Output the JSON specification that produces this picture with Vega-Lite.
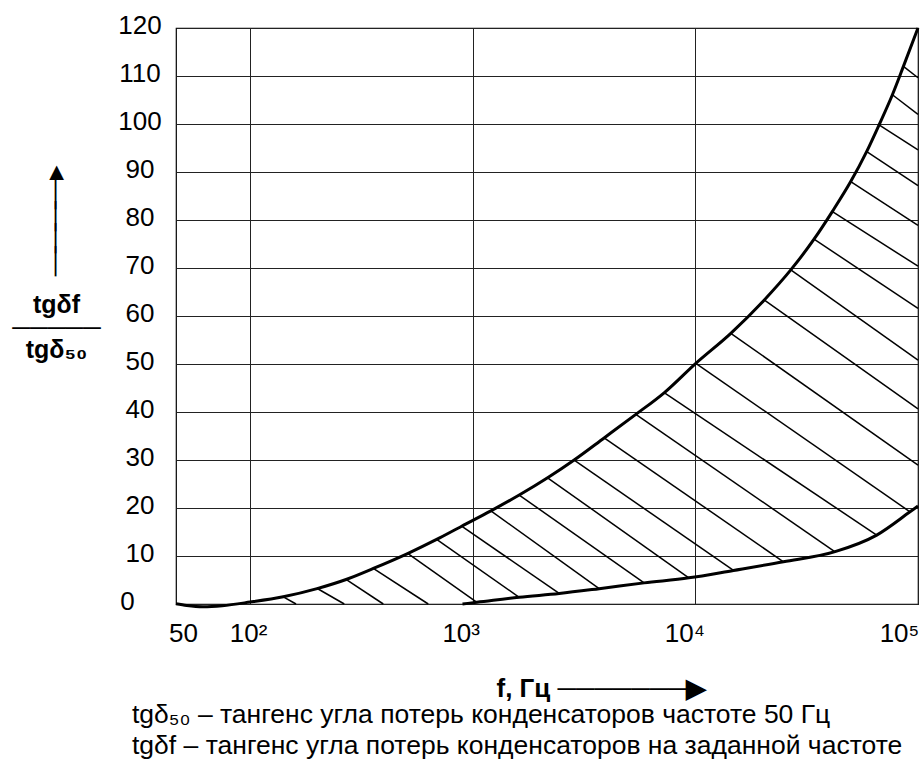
{
  "$schema": "https://vega.github.io/schema/vega-lite/v6.json",
  "width": 742,
  "height": 576,
  "autosize": {"type": "none"},
  "padding": {"left": 176, "top": 28, "right": 4, "bottom": 158},
  "background": "white",
  "config": {"view": {"stroke": "#000", "strokeWidth": 1.2}, "font": "Liberation Sans"},
  "title": {
    "text": ["tgδ₅₀ – тангенс угла потерь конденсаторов частоте 50 Гц", "tgδf – тангенс угла потерь конденсаторов на заданной частоте"],
    "orient": "bottom", "anchor": "start", "frame": "group", "dx": -44, "offset": 1,
    "fontSize": 26.5, "fontWeight": "normal", "font": "Liberation Sans", "color": "#000", "lineHeight": 31, "baseline": "top"
  },
  "datasets": {
    "curves": [
      {"curve": "upper", "f": 46.5, "v": 0.05}, {"curve": "upper", "f": 52, "v": -0.3}, {"curve": "upper", "f": 61.5, "v": -0.55},
      {"curve": "upper", "f": 75, "v": -0.35}, {"curve": "upper", "f": 100, "v": 0.4}, {"curve": "upper", "f": 141, "v": 1.5},
      {"curve": "upper", "f": 200, "v": 3.2}, {"curve": "upper", "f": 270, "v": 5.1}, {"curve": "upper", "f": 358, "v": 7.4},
      {"curve": "upper", "f": 510, "v": 10.5}, {"curve": "upper", "f": 689, "v": 13.45}, {"curve": "upper", "f": 892, "v": 16.2},
      {"curve": "upper", "f": 1207, "v": 19.4}, {"curve": "upper", "f": 1618, "v": 22.7}, {"curve": "upper", "f": 2170, "v": 26.3},
      {"curve": "upper", "f": 2856, "v": 30.0}, {"curve": "upper", "f": 3894, "v": 34.6}, {"curve": "upper", "f": 5404, "v": 39.5},
      {"curve": "upper", "f": 7241, "v": 44.0}, {"curve": "upper", "f": 10049, "v": 50.15}, {"curve": "upper", "f": 14430, "v": 56.4},
      {"curve": "upper", "f": 20360, "v": 63.3}, {"curve": "upper", "f": 26830, "v": 69.6}, {"curve": "upper", "f": 34130, "v": 76.0},
      {"curve": "upper", "f": 41280, "v": 81.8}, {"curve": "upper", "f": 49870, "v": 88.0}, {"curve": "upper", "f": 58860, "v": 94.3},
      {"curve": "upper", "f": 66830, "v": 99.8}, {"curve": "upper", "f": 76740, "v": 106.1}, {"curve": "upper", "f": 86000, "v": 112.0},
      {"curve": "upper", "f": 100000, "v": 120},
      {"curve": "lower", "f": 900, "v": 0}, {"curve": "lower", "f": 1045, "v": 0.35}, {"curve": "lower", "f": 1618, "v": 1.4},
      {"curve": "lower", "f": 2446, "v": 2.2}, {"curve": "lower", "f": 3698, "v": 3.2}, {"curve": "lower", "f": 5888, "v": 4.4},
      {"curve": "lower", "f": 9346, "v": 5.45}, {"curve": "lower", "f": 14838, "v": 7.0}, {"curve": "lower", "f": 24870, "v": 8.8},
      {"curve": "lower", "f": 42420, "v": 10.9}, {"curve": "lower", "f": 65250, "v": 14.35}, {"curve": "lower", "f": 92070, "v": 19.2},
      {"curve": "lower", "f": 100000, "v": 20.4}
    ],
    "hatch": [
      {"f": 141.1, "v": 1.48, "f2": 160.9, "v2": 0},
      {"f": 200.5, "v": 3.23, "f2": 265.0, "v2": 0},
      {"f": 269.8, "v": 5.11, "f2": 396.7, "v2": 0},
      {"f": 357.7, "v": 7.4, "f2": 631.5, "v2": 0},
      {"f": 510.5, "v": 10.53, "f2": 1045, "v2": 0.35},
      {"f": 688.8, "v": 13.45, "f2": 1618, "v2": 1.4},
      {"f": 891.9, "v": 16.22, "f2": 2446, "v2": 2.2},
      {"f": 1207, "v": 19.4, "f2": 3698, "v2": 3.2},
      {"f": 1618, "v": 22.69, "f2": 5888, "v2": 4.4},
      {"f": 2170, "v": 26.29, "f2": 9346, "v2": 5.45},
      {"f": 2856, "v": 29.98, "f2": 14838, "v2": 7.0},
      {"f": 3894, "v": 34.63, "f2": 24870, "v2": 8.78},
      {"f": 5404, "v": 39.51, "f2": 42420, "v2": 10.86},
      {"f": 7241, "v": 44.02, "f2": 65250, "v2": 14.35},
      {"f": 10049, "v": 50.15, "f2": 92070, "v2": 19.2},
      {"f": 14430, "v": 56.4, "f2": 100000, "v2": 28.94},
      {"f": 20360, "v": 63.34, "f2": 100000, "v2": 40.66},
      {"f": 26830, "v": 69.6, "f2": 100000, "v2": 50.83},
      {"f": 34130, "v": 76.0, "f2": 100000, "v2": 61.61},
      {"f": 41280, "v": 81.76, "f2": 100000, "v2": 70.37},
      {"f": 49870, "v": 88.01, "f2": 100000, "v2": 78.88},
      {"f": 58860, "v": 94.27, "f2": 100000, "v2": 87.18},
      {"f": 66830, "v": 99.83, "f2": 100000, "v2": 94.62},
      {"f": 76740, "v": 106.09, "f2": 100000, "v2": 102.02},
      {"f": 86000, "v": 111.99, "f2": 100000, "v2": 109.63}
    ]
  },
  "encoding": {
    "x": {
      "field": "f", "type": "quantitative",
      "scale": {"type": "log", "domain": [46.5, 100000], "nice": false},
      "axis": {
        "values": [50, 100, 1000, 10000, 100000],
        "labelExpr": "datum.value == 50 ? '50' : datum.value == 100 ? '10²' : datum.value == 1000 ? '10³' : datum.value == 10000 ? '10⁴' : '10⁵'",
        "grid": true, "gridColor": "#222", "gridWidth": 1,
        "gridOpacity": {"condition": {"test": "datum.value == 50", "value": 0}, "value": 1},
        "ticks": false, "tickSize": 0, "domain": false,
        "labelFontSize": 26, "labelColor": "#000", "labelPadding": 16.5, "labelBaseline": "top", "labelAlign": "center",
        "labelFlush": false, "labelOverlap": false, "labelBound": false,
        "labelOffset": {"condition": [
          {"test": "datum.value == 100", "value": -2},
          {"test": "datum.value == 1000", "value": -12},
          {"test": "datum.value == 10000", "value": -11},
          {"test": "datum.value == 100000", "value": -19}
        ], "value": 0},
        "title": "f, Гц ───────▶", "titleFontSize": 26, "titleFontWeight": "bold", "titleColor": "#000",
        "titleX": 320, "titleY": 92, "titleAlign": "left", "titleBaseline": "alphabetic"
      }
    },
    "y": {
      "field": "v", "type": "quantitative",
      "scale": {"domain": [0, 120], "nice": false, "zero": false},
      "axis": {
        "values": [0, 10, 20, 30, 40, 50, 60, 70, 80, 90, 100, 110, 120],
        "grid": true, "gridColor": "#222", "gridWidth": 1,
        "ticks": false, "tickSize": 0, "domain": false,
        "labelFontSize": 26, "labelColor": "#000", "labelAlign": "center", "labelBaseline": "middle",
        "labelPadding": {"condition": {"test": "datum.value == 0", "value": 49}, "value": 36.5},
        "labelOffset": -3, "labelFlush": false, "labelOverlap": false, "labelBound": false,
        "title": ["▲", "│", "│", "│", "│", "\u2800", "tgδf", "─────", "tgδ₅₀"],
        "titleAngle": 0, "titleAlign": "center", "titleBaseline": "alphabetic",
        "titleX": -120, "titleY": 151, "titleFontSize": 25, "titleFontWeight": "bold", "titleLineHeight": 22.33, "titleColor": "#000"
      }
    }
  },
  "layer": [
    {
      "data": {"name": "hatch"},
      "mark": {"type": "rule", "color": "#000", "strokeWidth": 1.5},
      "encoding": {"x2": {"field": "f2"}, "y2": {"field": "v2"}}
    },
    {
      "data": {"name": "curves"},
      "mark": {"type": "line", "color": "#000", "strokeWidth": 3, "interpolate": "monotone"},
      "encoding": {"detail": {"field": "curve"}}
    }
  ]
}
